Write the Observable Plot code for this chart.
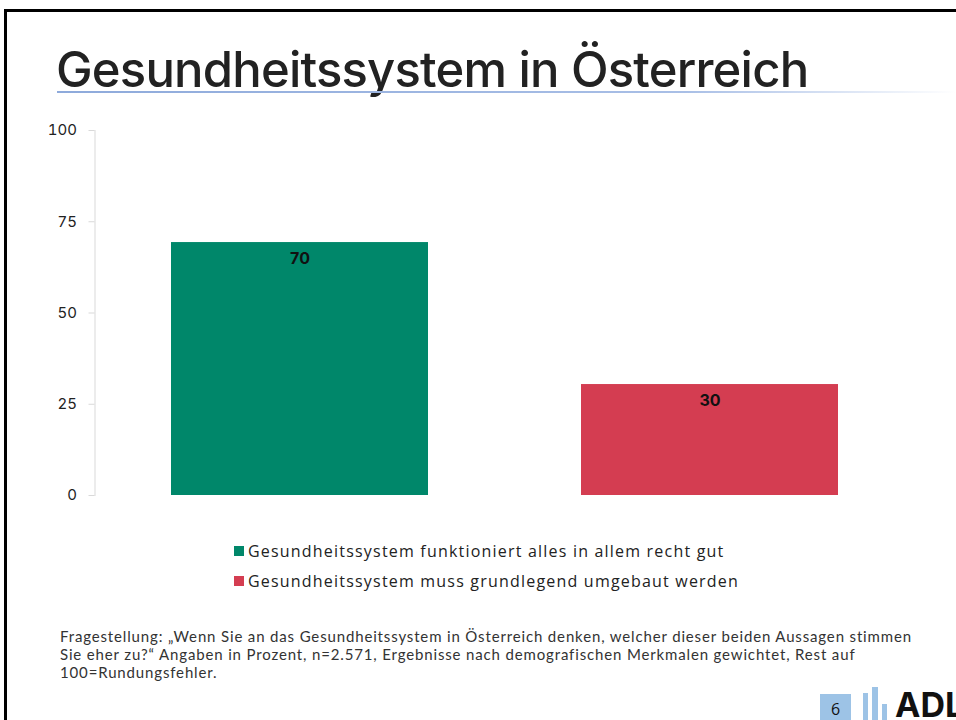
<!DOCTYPE html>
<html>
<head>
<meta charset="utf-8">
<script src="https://cdn.jsdelivr.net/npm/d3@7"></script>
<script src="https://cdn.jsdelivr.net/npm/@observablehq/plot@0.6"></script>
<style>
  html, body { margin:0; padding:0; background:#fff; }
  body { width:956px; height:720px; overflow:hidden; position:relative; font-family:"Open Sans", sans-serif; }
  #border { position:absolute; left:4px; top:9px; width:1200px; height:1200px; border-left:3px solid #000; border-top:3px solid #000; }
  #title { position:absolute; left:56px; top:42px; font-family:Inter, sans-serif; font-size:49px; font-weight:500; color:#222; letter-spacing:-0.8px; white-space:nowrap; line-height:56px; }
  #rule { position:absolute; left:57px; top:91px; width:899px; height:2px; background:linear-gradient(to right, #8eaadb 0%, #a9bfe6 70%, rgba(255,255,255,0) 100%); }
  #chart { position:absolute; left:0; top:110px; }
  #legend { position:absolute; left:234px; top:536px; font-size:16px; color:#222; letter-spacing:1.2px; }
  .li { display:flex; align-items:center; height:30px; white-space:nowrap; }
  .sw { width:10px; height:10px; margin-right:4px; }
  #foot { position:absolute; left:60px; top:627px; font-family:Lato, sans-serif; font-size:15px; line-height:18px; color:#333; white-space:nowrap; letter-spacing:0.85px; }
  #page { position:absolute; left:820px; top:694px; width:31px; height:26px; background:#9dc3e6; font-size:16px; color:#111; text-align:center; line-height:30px; }
  .lb { position:absolute; background:#9dc3e6; }
  #adl { position:absolute; left:895px; top:685px; font-family:Inter, sans-serif; font-weight:700; font-size:34px; color:#111; letter-spacing:0px; line-height:40px; }
</style>
</head>
<body>
<div id="border"></div>
<div id="title">Gesundheitssystem in Österreich</div>
<div id="rule"></div>
<div id="chart"></div>
<div id="legend"></div>
<div id="foot">Fragestellung: „Wenn Sie an das Gesundheitssystem in Österreich denken, welcher dieser beiden Aussagen stimmen<br>Sie eher zu?“ Angaben in Prozent, n=2.571, Ergebnisse nach demografischen Merkmalen gewichtet, Rest auf<br>100=Rundungsfehler.</div>
<div id="page">6</div>
<div class="lb" style="left:863px; top:693px; width:5px; height:27px;"></div>
<div class="lb" style="left:872px; top:687px; width:6px; height:33px;"></div>
<div class="lb" style="left:882px; top:704px; width:5px; height:16px;"></div>
<div id="adl">ADL</div>
<script>
const categories = [
  "Gesundheitssystem funktioniert alles in allem recht gut",
  "Gesundheitssystem muss grundlegend umgebaut werden"
];
const values = [69.3, 30.4];
const valueLabels = ["70", "30"];
const colors = ["#00876a", "#d43d51"];
const yTicks = [0, 25, 50, 75, 100];

const data = categories.map((c, i) => ({category: c, value: values[i], label: valueLabels[i]}));

const chart = Plot.plot({
  width: 956,
  height: 400,
  marginTop: 20,
  marginBottom: 15,
  marginLeft: 94.5,
  marginRight: 41.5,
  style: {fontFamily: "Inter, sans-serif", background: "transparent"},
  x: {domain: categories, paddingInner: 0.373, paddingOuter: 0.1865, axis: null},
  y: {domain: [0, 100], label: null},
  color: {domain: categories, range: colors},
  marks: [
    Plot.axisY(yTicks, {tickSize: 6, tickPadding: 12, fontSize: 15, stroke: "#d9d9d9", fill: "#222", label: null}),
    Plot.frame({anchor: "left", stroke: "#d9d9d9"}),
    Plot.barY(data, {x: "category", y: "value", fill: "category"}),
    Plot.text(data, {x: "category", y: "value", text: "label", dy: 16, fontSize: 16, fontWeight: 700, fill: "#111"})
  ]
});
document.getElementById("chart").appendChild(chart);

const legend = document.getElementById("legend");
categories.forEach((c, i) => {
  const row = document.createElement("div");
  row.className = "li";
  const sw = document.createElement("div");
  sw.className = "sw";
  sw.style.background = colors[i];
  const t = document.createElement("span");
  t.textContent = c;
  row.appendChild(sw);
  row.appendChild(t);
  legend.appendChild(row);
});
</script>
</body>
</html>
